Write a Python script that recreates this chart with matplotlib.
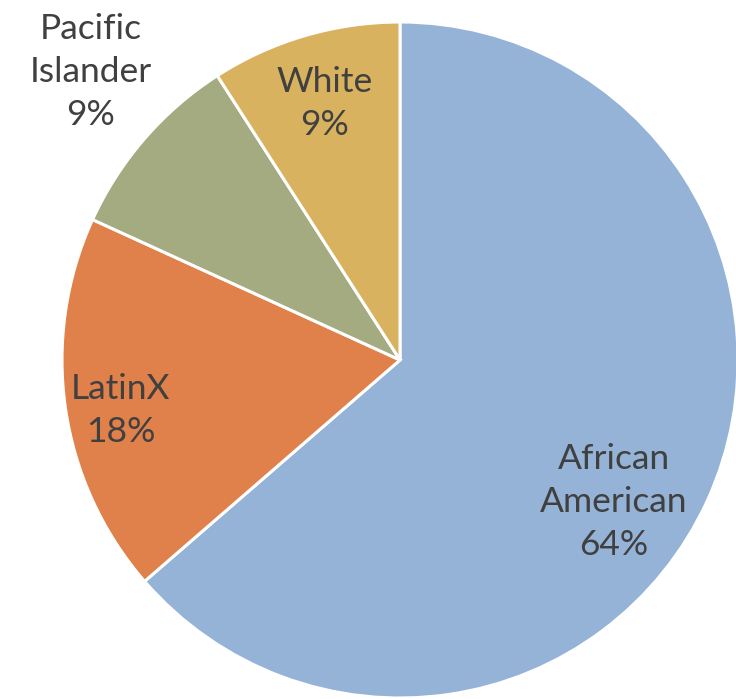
import numpy as np
import matplotlib.pyplot as plt

groups = ["African\nAmerican", "LatinX", "Pacific\nIslander", "White"]
counts = [7, 2, 1, 1]
colors = ["#95B3D6", "#E0804A", "#A4AB81", "#D9B25F"]
# how far out each label sits, as a fraction of the radius
label_r = [0.76, 0.84, 1.25, 0.79]
label_shift = [-9, 2, -2, 0]  # degrees, to nudge labels off the mid angle

fig = plt.figure(figsize=(7.36, 6.99), dpi=100)
ax = fig.add_axes([0, 0, 1, 1])

wedges, _ = ax.pie(counts, colors=colors, startangle=90, counterclock=False,
                   wedgeprops=dict(edgecolor="white", linewidth=2.2))

total = sum(counts)
for w, name, n, r, sh in zip(wedges, groups, counts, label_r, label_shift):
    mid = np.deg2rad((w.theta1 + w.theta2) / 2 + sh)
    pct = round(100 * n / total)
    ax.text(r * np.cos(mid), r * np.sin(mid), f"{name}\n{pct}%",
            ha="center", va="center", fontsize=25.5, color="#404040",
            family="Lato", linespacing=1.42)

R = 338.0
ax.set_xlim(-400 / R, 336 / R)
ax.set_ylim(-339 / R, 360 / R)
ax.set_aspect("equal")
ax.axis("off")

fig.savefig("out.png", dpi=100)
